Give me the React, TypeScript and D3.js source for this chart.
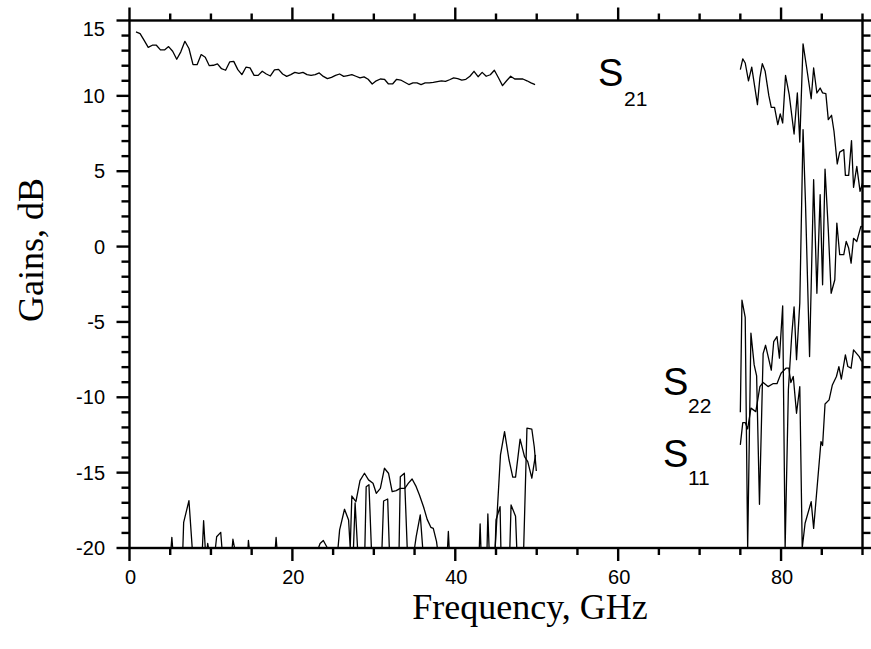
import React from "react";
import * as d3 from "d3";

// ---------- data ----------
const xTicksMajor = [0, 20, 40, 60, 80];
const yTicksMajor = [-20, -15, -10, -5, 0, 5, 10, 15];

// S21, low band, uniform grid 0.8 GHz + 0.5 GHz step
const s21LowStart = 0.8;
const s21LowStep = 0.5;
const s21LowGain = [
  14.24, 14.13, 13.68, 13.22, 13.36, 13.36, 13.05, 13.05, 13.27, 12.96,
  12.43, 12.92, 13.62, 13.14, 12.07, 12.07, 12.74, 12.56, 12.0, 12.03,
  12.12, 11.8, 11.7, 12.25, 12.29, 11.74, 11.41, 11.9, 11.86, 11.36,
  11.36, 11.63, 11.45, 11.32, 11.72, 11.76, 11.45, 11.29, 11.41, 11.56,
  11.49, 11.56, 11.41, 11.36, 11.41, 11.52, 11.29, 11.14, 11.23, 11.36,
  11.45, 11.29, 11.35, 11.41, 11.3, 11.19, 11.26, 11.1, 10.79, 11.0,
  11.12, 11.1, 10.79, 10.79, 11.1, 11.05, 10.9, 10.75, 10.86, 10.86,
  10.75, 10.86, 10.86, 10.9, 10.95, 11.0, 10.96, 11.07, 11.19, 11.15,
  11.05, 11.1, 11.3, 11.63, 11.27, 11.56, 11.3, 11.4, 11.7, 11.2,
  10.68, 11.0, 11.3, 11.12, 11.12, 11.12, 11.0, 10.86, 10.75,
];

const s21HighFreq = [
  75.0, 75.3, 75.6, 76.0, 76.4, 77.1, 77.4, 77.7, 78.05, 78.5, 78.8, 79.2,
  79.6, 79.9, 80.2, 80.55, 81.0, 81.6, 82.0, 82.3, 82.7, 83.15, 83.7, 84.0,
  84.4, 84.8, 85.1, 85.5, 85.8, 86.2, 86.5, 86.9, 87.2, 87.7, 87.9, 88.3,
  88.65, 88.9, 89.3, 89.7, 90.0,
];
const s21HighGain = [
  11.74, 12.45, 12.18, 11.0, 11.9, 9.42, 11.19, 12.14, 11.63, 10.01, 9.24,
  9.24, 8.09, 8.8, 8.2, 11.36, 10.08, 7.47, 10.19, 6.94, 13.45, 11.85, 9.81,
  11.85, 10.19, 10.52, 10.2, 10.15, 8.42, 8.71, 7.65, 5.48, 6.27, 6.43, 4.72,
  4.72, 7.03, 3.93, 5.32, 3.66, 4.2,
];

const s22LowFreq = [
  0.8, 6.55, 6.65, 7.3, 7.7, 10.55, 10.7, 11.2, 11.35, 23.2, 23.4, 23.8, 24.3,
  25.6, 25.8, 26.4, 26.9, 27.1, 27.3, 27.8, 28.3, 28.85, 29.35, 29.9, 30.3,
  30.8, 31.3, 31.8, 32.25, 32.75, 33.25, 33.8, 34.25, 34.7, 35.2, 35.6, 36.1,
  36.55, 37.0, 37.3, 37.7, 37.8, 44.9, 45.55, 46.05, 46.6, 47.06, 47.4, 47.96,
  48.5, 48.9, 49.4, 49.85,
];
const s22LowGain = [
  -20, -20, -18.3, -16.86, -20, -20, -19.25, -18.96, -20, -20, -19.7, -19.5,
  -20, -20, -18.8, -17.43, -18.14, -20, -16.55, -16.93, -15.53, -15.04, -15.48,
  -15.7, -16.37, -16.04, -14.71, -15.04, -16.26, -16.19, -16.04, -16.04, -15.7,
  -15.42, -15.93, -16.48, -17.26, -18.1, -18.63, -18.7, -19.58, -20, -20,
  -13.82, -12.28, -14.16, -15.3, -15.3, -12.78, -13.94, -14.27, -15.37, -13.82,
];

const s11LowFreq = [
  0.8, 5.1, 5.2, 5.3, 8.95, 9.1, 9.3, 9.55, 9.6, 9.7, 12.6, 12.7, 12.9, 14.55,
  14.6, 14.7, 17.9, 18.0, 18.1, 27.5, 27.7, 28.0, 28.9, 29.06, 29.4, 29.7,
  31.0, 31.2, 31.7, 31.9, 33.1, 33.25, 33.75, 34.1, 35.0, 35.2, 35.7, 36.0,
  39.05, 39.15, 39.25, 42.95, 43.05, 43.15, 43.9, 44.0, 44.15, 44.9, 45.0,
  45.5, 45.6, 46.7, 46.85, 47.4, 47.55, 48.4, 48.8, 49.4, 49.7, 49.95,
];
const s11LowGain = [
  -20, -20, -19.29, -20, -20, -18.19, -20, -20, -19.7, -20, -20, -19.42, -20,
  -20, -19.5, -20, -20, -19.3, -20, -20, -17.0, -20, -20, -15.93, -15.8, -20,
  -20, -16.88, -16.75, -20, -20, -15.27, -15.04, -20, -20, -19.25, -17.8, -20,
  -20, -18.9, -20, -20, -18.4, -20, -20, -17.74, -20, -20, -18.14, -17.26,
  -20, -20, -17.14, -17.9, -20, -20, -12.05, -12.12, -13.3, -14.89,
];

const s22HighFreq = [
  75.0, 75.2, 75.6, 75.9, 76.3, 76.7, 77.0, 77.35, 77.8, 78.1, 78.8, 79.1,
  79.5, 79.8, 80.2, 80.5, 80.9, 81.3, 81.6, 81.9, 82.3, 82.7, 83.0, 83.5,
  84.0, 84.4, 84.8, 85.1, 85.4, 85.8, 86.15, 86.6, 86.85, 87.2, 87.7, 88.0,
  88.3, 88.6, 88.9, 89.3, 89.8, 90.0,
];
const s22HighGain = [
  -11.0, -3.55, -4.7, -20, -5.74, -7.85, -8.58, -17.1, -7.1, -6.55, -8.2,
  -6.3, -5.97, -7.4, -3.93, -20, -9.5, -5.97, -4.0, -7.5, -3.75, 7.76, 2.9,
  -7.3, 4.44, -3.1, 3.44, -2.54, 5.14, 1.12, -3.1, -2.2, 1.56, -0.54, -0.54,
  0.34, -0.1, -1.1, 0.55, 0.34, 1.34, 1.3,
];

const s11HighFreq = [
  75.0, 75.3, 75.6, 75.9, 76.3, 76.9, 77.4, 77.8, 78.4, 79.0, 79.5, 80.0,
  80.6, 80.95, 81.2, 81.5, 81.9, 82.3, 82.6, 82.95, 83.7, 84.0, 84.9, 85.1,
  85.4, 85.9, 86.3, 86.8, 87.1, 87.4, 87.9, 88.2, 88.6, 88.9, 89.6, 89.9,
];
const s11HighGain = [
  -13.16, -11.68, -11.68, -12.1, -10.72, -10.95, -9.29, -9.02, -9.29, -9.1,
  -9.1, -8.4, -8.07, -8.07, -9.02, -8.62, -11.06, -9.29, -20, -18.36, -16.93,
  -18.7, -12.94, -13.2, -10.44, -10.17, -9.18, -8.62, -7.96, -8.8, -7.18,
  -7.96, -8.07, -6.85, -7.3, -7.63,
];

// ---------- layout ----------
const W = 871;
const H = 649;
const L = 129.5;
const R = 862.5;
const T = 20.5;
const B = 548;

const x = d3.scaleLinear().domain([0, 90]).range([L, R]);
const y = d3.scaleLinear().domain([-20, 15]).range([B, T]);

type P = [number, number];
const zip = (f: number[], g: number[]): P[] => f.map((v, i) => [v, g[i]]);

const line = d3
  .line<P>()
  .x((d) => x(d[0]))
  .y((d) => y(d[1]));

const s21Low: P[] = s21LowGain.map((g, i) => [s21LowStart + i * s21LowStep, g]);

const series: P[][] = [
  s21Low,
  zip(s21HighFreq, s21HighGain),
  zip(s22LowFreq, s22LowGain),
  zip(s11LowFreq, s11LowGain),
  zip(s22HighFreq, s22HighGain),
  zip(s11HighFreq, s11HighGain),
];

const sans = "'Liberation Sans', Arial, Helvetica, sans-serif";
const serif = "'Liberation Serif', 'Times New Roman', serif";

export default function App() {
  const xMinor = d3.range(0, 91, 5);
  const yMinor = d3.range(-20, 16, 1);
  return (
    <svg
      width={W}
      height={H}
      style={{ position: "absolute", left: 0, top: 0, background: "#fff" }}
    >
      <defs>
        <clipPath id="plot">
          <rect x={L} y={T} width={R - L} height={B - T} />
        </clipPath>
      </defs>
      <g clipPath="url(#plot)">
        {series.map((s, i) => (
          <path
            key={i}
            d={line(s) || ""}
            fill="none"
            stroke="#000"
            strokeWidth={1.3}
            strokeLinejoin="round"
          />
        ))}
      </g>

      {/* frame */}
      <rect x={L} y={T} width={R - L} height={B - T} fill="none" stroke="#000" strokeWidth={2.4} />

      {/* x ticks bottom & top */}
      {xMinor.map((v) => {
        const major = v % 20 === 0;
        return (
          <g key={"xt" + v}>
            <line x1={x(v)} x2={x(v)} y1={B} y2={B + (major ? 13 : 7)} stroke="#000" strokeWidth={2.4} />
            <line x1={x(v)} x2={x(v)} y1={T} y2={T - (major ? 13 : 7)} stroke="#000" strokeWidth={2.4} />
          </g>
        );
      })}
      {/* y ticks left & right */}
      {yMinor.map((v) => {
        const major = v % 5 === 0;
        return (
          <g key={"yt" + v}>
            <line x1={L} x2={L - (major ? 13 : 8)} y1={y(v)} y2={y(v)} stroke="#000" strokeWidth={2.4} />
            <line x1={R} x2={R + (major ? 13 : 8)} y1={y(v)} y2={y(v)} stroke="#000" strokeWidth={2.4} />
          </g>
        );
      })}

      {/* tick labels */}
      {xTicksMajor.map((v) => (
        <text key={"xl" + v} x={x(v) + 1} y={584} textAnchor="middle" fontFamily={sans} fontSize={20}>
          {v}
        </text>
      ))}
      {yTicksMajor.map((v) => (
        <text
          key={"yl" + v}
          x={105}
          y={Math.max(y(v), 29) + 7}
          textAnchor="end"
          fontFamily={sans}
          fontSize={20}
        >
          {v}
        </text>
      ))}

      {/* axis titles */}
      <text x={530} y={619} textAnchor="middle" fontFamily={serif} fontSize={36}>
        Frequency, GHz
      </text>
      <text
        transform={`translate(43,250) rotate(-90)`}
        textAnchor="middle"
        fontFamily={serif}
        fontSize={36}
      >
        Gains, dB
      </text>

      {/* series labels */}
      <text x={598} y={86} fontFamily={sans} fontSize={38}>S</text>
      <text x={624} y={106} fontFamily={sans} fontSize={21}>21</text>
      <text x={663} y={395} fontFamily={sans} fontSize={38}>S</text>
      <text x={688} y={413} fontFamily={sans} fontSize={21}>22</text>
      <text x={663} y={467} fontFamily={sans} fontSize={38}>S</text>
      <text x={688} y={485} fontFamily={sans} fontSize={21}>11</text>
    </svg>
  );
}
